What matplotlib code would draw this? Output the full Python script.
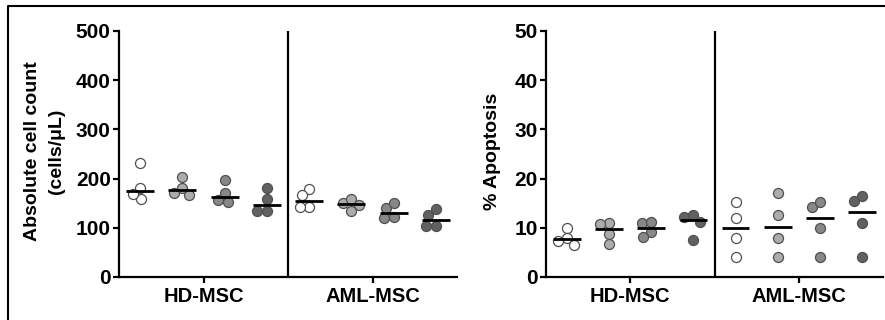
import matplotlib
matplotlib.use('Agg')
import matplotlib.pyplot as plt
import numpy as np
from matplotlib.lines import Line2D

plt.rcParams['font.family'] = ['Liberation Sans', 'DejaVu Sans']
plt.rcParams['font.weight'] = 'bold'

# ---------------- data ----------------
conditions = ['HD-MSC', 'AML-MSC']
group_fill = ['#ffffff', '#acacac', '#888888', '#616161']

count_hd = [[231, 181, 159, 169],
            [204, 167, 171, 181],
            [197, 156, 152, 170],
            [180, 158, 134, 134]]
count_aml = [[179, 167, 143, 143],
             [151, 158, 146, 134],
             [140, 151, 119, 121],
             [138, 127, 104, 104]]

apop_hd = [[10.0, 8.0, 7.4, 6.6],
           [10.9, 10.7, 8.7, 6.7],
           [10.9, 11.2, 9.1, 8.2],
           [12.1, 12.6, 11.2, 7.5]]
apop_aml = [[15.3, 11.9, 7.9, 4.0],
            [17.0, 12.6, 7.9, 4.0],
            [14.2, 15.3, 9.9, 4.0],
            [15.4, 16.5, 10.9, 4.0]]

count_ticks = [0, 100, 200, 300, 400, 500]
apop_ticks = [0, 10, 20, 30, 40, 50]

W, H = 885, 320
fig = plt.figure(figsize=(W / 100, H / 100), dpi=100)

axL = fig.add_axes([119 / W, 43 / H, 338 / W, 246 / H])
axR = fig.add_axes([546 / W, 43 / H, 337 / W, 246 / H])


def swarm(ax, vals, ymax, D=9.5):
    sx = ax.bbox.width / 8.0
    sy = ax.bbox.height / ymax
    ys = np.asarray(vals, dtype=float) * sy
    order = np.argsort(-ys, kind='stable')
    placed = []
    off = np.zeros(len(vals))
    for i in order:
        cands = [0.0]
        for px, py in placed:
            dy = ys[i] - py
            if abs(dy) < D:
                dx = np.sqrt(D * D - dy * dy)
                cands += [px - dx, px + dx]
        cands.sort(key=lambda c: (abs(c), c))
        for c in cands:
            if all((c - px) ** 2 + (ys[i] - py) ** 2 >= D * D - 1e-6 for px, py in placed):
                off[i] = c
                break
        placed.append((off[i], ys[i]))
    return off / sx


def draw(ax, hd, aml, ticks, ylabel, label_x, linespacing=1.2):
    ymax = ticks[-1]
    ax.set_xlim(0, 8)
    ax.set_ylim(0, ymax)
    for s in ['top', 'right']:
        ax.spines[s].set_visible(False)
    for s in ['left', 'bottom']:
        ax.spines[s].set_linewidth(1.6)
    ax.axvline(4, color='black', lw=1.6)
    ax.set_yticks(ticks)
    ax.set_xticks([2, 6])
    ax.set_xticklabels(conditions)
    ax.tick_params(axis='both', direction='out', length=4, width=1.6)
    ax.tick_params(axis='y', pad=2, labelsize=15)
    ax.tick_params(axis='x', pad=3, labelsize=14.5)
    for t in ax.get_xticklabels() + ax.get_yticklabels():
        t.set_fontweight('bold')
    groups = list(hd) + list(aml)
    for i, vals in enumerate(groups):
        x0 = i + 0.5
        offs = swarm(ax, vals, ymax)
        ax.scatter(x0 + offs, vals, s=52, c=group_fill[i % 4], edgecolors='#505050',
                   linewidths=0.9, zorder=3, clip_on=False)
        med = np.median(vals)
        ax.plot([x0 - 0.33, x0 + 0.33], [med, med], color='black', lw=2.0,
                zorder=4, solid_capstyle='butt')
    ax.set_ylabel(ylabel, fontsize=14, fontweight='bold', linespacing=linespacing)
    ax.yaxis.set_label_coords(label_x, 0.51)


draw(axL, count_hd, count_aml, count_ticks, 'Absolute cell count\n(cells/\u03bcL)', -0.16, 1.5)
draw(axR, apop_hd, apop_aml, apop_ticks, '% Apoptosis', -0.134)

fig.add_artist(Line2D([8 / W, 8 / W, 1.0], [0, 1 - 6 / H, 1 - 6 / H],
                      transform=fig.transFigure, color='black', lw=1.5))

fig.savefig('out.png', dpi=100)
